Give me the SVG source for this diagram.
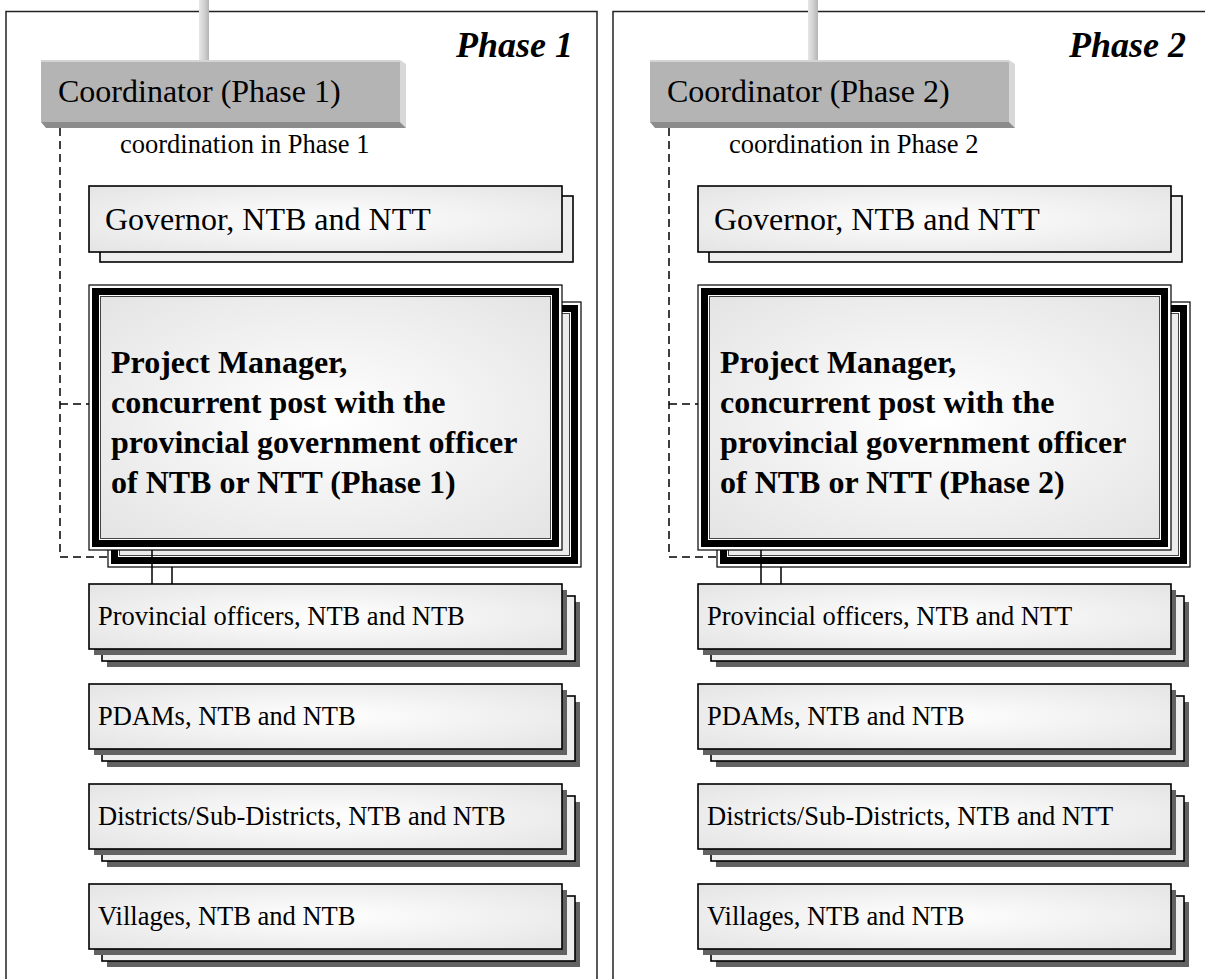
<svg xmlns="http://www.w3.org/2000/svg" width="1205" height="979" viewBox="0 0 1205 979">
<defs>
<radialGradient id="gf" cx="50%" cy="50%" r="75%">
<stop offset="0" stop-color="#ffffff"/>
<stop offset="1" stop-color="#e2e2e2"/>
</radialGradient>
<linearGradient id="gbar" x1="0" y1="0" x2="1" y2="0">
<stop offset="0" stop-color="#e6e6e6"/>
<stop offset="0.5" stop-color="#d2d2d2"/>
<stop offset="1" stop-color="#b4b4b4"/>
</linearGradient>
</defs>
<style>
.panel{fill:none;stroke:#222;stroke-width:1.5}
.txt{font-family:"Liberation Serif","Times New Roman",serif;fill:#000}
.big{font-size:32px}
.small{font-size:26.5px}
.pm{font-size:32px;font-weight:bold}
.ph{font-size:36px;font-weight:bold;font-style:italic}
.coord{fill:#b4b4b4}
.coordTop{fill:#d4d4d4}
.coordR{fill:#d8d8d8}
.coordB{fill:#8c8c8c}
.front{fill:url(#gf);stroke:#000;stroke-width:1.6}
.back{fill:#eeeeee;stroke:#000;stroke-width:1.6}
.shadow{fill:#626262}
.pmOuter{fill:#ffffff;stroke:#000;stroke-width:1.2}
.pmThick{fill:none;stroke:#000;stroke-width:7}
.pmInnerF{fill:url(#gf);stroke:#444;stroke-width:1}
.pmInnerB{fill:#ececec;stroke:#444;stroke-width:1}
.dash{fill:none;stroke:#000;stroke-width:1.5;stroke-dasharray:8 5}
.link{fill:none;stroke:#000;stroke-width:1.5}
.bar{fill:url(#gbar)}
</style>

<!-- panels -->
<g id="panel-phase1">
<path class="panel" d="M6,979 V11.5 H597 V979"/>
<text class="txt ph" x="573" y="57" text-anchor="end">Phase 1</text>
</g>
<g id="panel-phase2">
<path class="panel" d="M613,979 V11.5 H1205"/>
<text class="txt ph" x="1186" y="57" text-anchor="end">Phase 2</text>
</g>

<!-- connectors -->
<g id="connectors">
<rect class="bar" x="199" y="0" width="10" height="62"/>
<rect class="bar" x="808" y="0" width="10" height="62"/>
<path class="dash" d="M60,128 V557 H108 M60,404 H89"/>
<path class="dash" d="M669,128 V557 H717 M669,404 H698"/>
</g>

<!-- Phase 1 nodes -->
<g id="coordinator-1">
<polygon class="coordR" points="400,60 406,64 406,128 400,122"/>
<polygon class="coordB" points="41,122 400,122 406,128 46,128"/>
<rect class="coord" x="41" y="60" width="359" height="62"/>
<rect class="coordTop" x="41" y="60" width="359" height="2"/>
<text class="txt big" x="58" y="102">Coordinator (Phase 1)</text>
</g>
<g id="coordination-label-1">
<text class="txt small" x="120" y="153">coordination in Phase 1</text>
</g>
<g id="governor-1">
<rect class="back" x="100" y="196" width="473" height="66"/>
<rect class="front" x="89" y="186" width="473" height="66"/>
<text class="txt big" x="105" y="230">Governor, NTB and NTT</text>
</g>
<g id="pm-1">
<rect class="pmOuter" x="108" y="302" width="473" height="265"/>
<rect class="pmThick" x="114.5" y="308.5" width="460" height="252"/>
<rect class="pmInnerB" x="119.5" y="313.5" width="450" height="242"/>
<rect class="pmOuter" x="89" y="285" width="473" height="265"/>
<rect class="pmThick" x="95.5" y="291.5" width="460" height="252"/>
<rect class="pmInnerF" x="100.5" y="296.5" width="450" height="242"/>
<text class="txt pm" x="111" y="373">Project Manager,</text>
<text class="txt pm" x="111" y="413">concurrent post with the</text>
<text class="txt pm" x="111" y="453">provincial government officer</text>
<text class="txt pm" x="111" y="493">of NTB or NTT (Phase 1)</text>
</g>
<g id="pm-links-1">
<path class="link" d="M152,550 V584 M172,567 V584"/>
</g>
<g id="provincial-1" transform="translate(89,584)">
<rect class="shadow" x="18" y="18" width="473" height="65"/>
<rect class="back" x="13" y="12" width="473" height="65"/>
<rect class="shadow" x="5" y="6" width="473" height="65"/>
<rect class="front" x="0" y="0" width="473" height="65"/>
<text class="txt small" x="9" y="41">Provincial officers, NTB and NTB</text>
</g>
<g id="pdams-1" transform="translate(89,684)">
<rect class="shadow" x="18" y="18" width="473" height="65"/>
<rect class="back" x="13" y="12" width="473" height="65"/>
<rect class="shadow" x="5" y="6" width="473" height="65"/>
<rect class="front" x="0" y="0" width="473" height="65"/>
<text class="txt small" x="9" y="41">PDAMs, NTB and NTB</text>
</g>
<g id="districts-1" transform="translate(89,784)">
<rect class="shadow" x="18" y="18" width="473" height="65"/>
<rect class="back" x="13" y="12" width="473" height="65"/>
<rect class="shadow" x="5" y="6" width="473" height="65"/>
<rect class="front" x="0" y="0" width="473" height="65"/>
<text class="txt small" x="9" y="41">Districts/Sub-Districts, NTB and NTB</text>
</g>
<g id="villages-1" transform="translate(89,884)">
<rect class="shadow" x="18" y="18" width="473" height="65"/>
<rect class="back" x="13" y="12" width="473" height="65"/>
<rect class="shadow" x="5" y="6" width="473" height="65"/>
<rect class="front" x="0" y="0" width="473" height="65"/>
<text class="txt small" x="9" y="41">Villages, NTB and NTB</text>
</g>

<!-- Phase 2 nodes -->
<g id="coordinator-2">
<polygon class="coordR" points="1009,60 1015,64 1015,128 1009,122"/>
<polygon class="coordB" points="650,122 1009,122 1015,128 655,128"/>
<rect class="coord" x="650" y="60" width="359" height="62"/>
<rect class="coordTop" x="650" y="60" width="359" height="2"/>
<text class="txt big" x="667" y="102">Coordinator (Phase 2)</text>
</g>
<g id="coordination-label-2">
<text class="txt small" x="729" y="153">coordination in Phase 2</text>
</g>
<g id="governor-2">
<rect class="back" x="709" y="196" width="473" height="66"/>
<rect class="front" x="698" y="186" width="473" height="66"/>
<text class="txt big" x="714" y="230">Governor, NTB and NTT</text>
</g>
<g id="pm-2">
<rect class="pmOuter" x="717" y="302" width="473" height="265"/>
<rect class="pmThick" x="723.5" y="308.5" width="460" height="252"/>
<rect class="pmInnerB" x="728.5" y="313.5" width="450" height="242"/>
<rect class="pmOuter" x="698" y="285" width="473" height="265"/>
<rect class="pmThick" x="704.5" y="291.5" width="460" height="252"/>
<rect class="pmInnerF" x="709.5" y="296.5" width="450" height="242"/>
<text class="txt pm" x="720" y="373">Project Manager,</text>
<text class="txt pm" x="720" y="413">concurrent post with the</text>
<text class="txt pm" x="720" y="453">provincial government officer</text>
<text class="txt pm" x="720" y="493">of NTB or NTT (Phase 2)</text>
</g>
<g id="pm-links-2">
<path class="link" d="M761,550 V584 M781,567 V584"/>
</g>
<g id="provincial-2" transform="translate(698,584)">
<rect class="shadow" x="18" y="18" width="473" height="65"/>
<rect class="back" x="13" y="12" width="473" height="65"/>
<rect class="shadow" x="5" y="6" width="473" height="65"/>
<rect class="front" x="0" y="0" width="473" height="65"/>
<text class="txt small" x="9" y="41">Provincial officers, NTB and NTT</text>
</g>
<g id="pdams-2" transform="translate(698,684)">
<rect class="shadow" x="18" y="18" width="473" height="65"/>
<rect class="back" x="13" y="12" width="473" height="65"/>
<rect class="shadow" x="5" y="6" width="473" height="65"/>
<rect class="front" x="0" y="0" width="473" height="65"/>
<text class="txt small" x="9" y="41">PDAMs, NTB and NTB</text>
</g>
<g id="districts-2" transform="translate(698,784)">
<rect class="shadow" x="18" y="18" width="473" height="65"/>
<rect class="back" x="13" y="12" width="473" height="65"/>
<rect class="shadow" x="5" y="6" width="473" height="65"/>
<rect class="front" x="0" y="0" width="473" height="65"/>
<text class="txt small" x="9" y="41">Districts/Sub-Districts, NTB and NTT</text>
</g>
<g id="villages-2" transform="translate(698,884)">
<rect class="shadow" x="18" y="18" width="473" height="65"/>
<rect class="back" x="13" y="12" width="473" height="65"/>
<rect class="shadow" x="5" y="6" width="473" height="65"/>
<rect class="front" x="0" y="0" width="473" height="65"/>
<text class="txt small" x="9" y="41">Villages, NTB and NTB</text>
</g>
</svg>
